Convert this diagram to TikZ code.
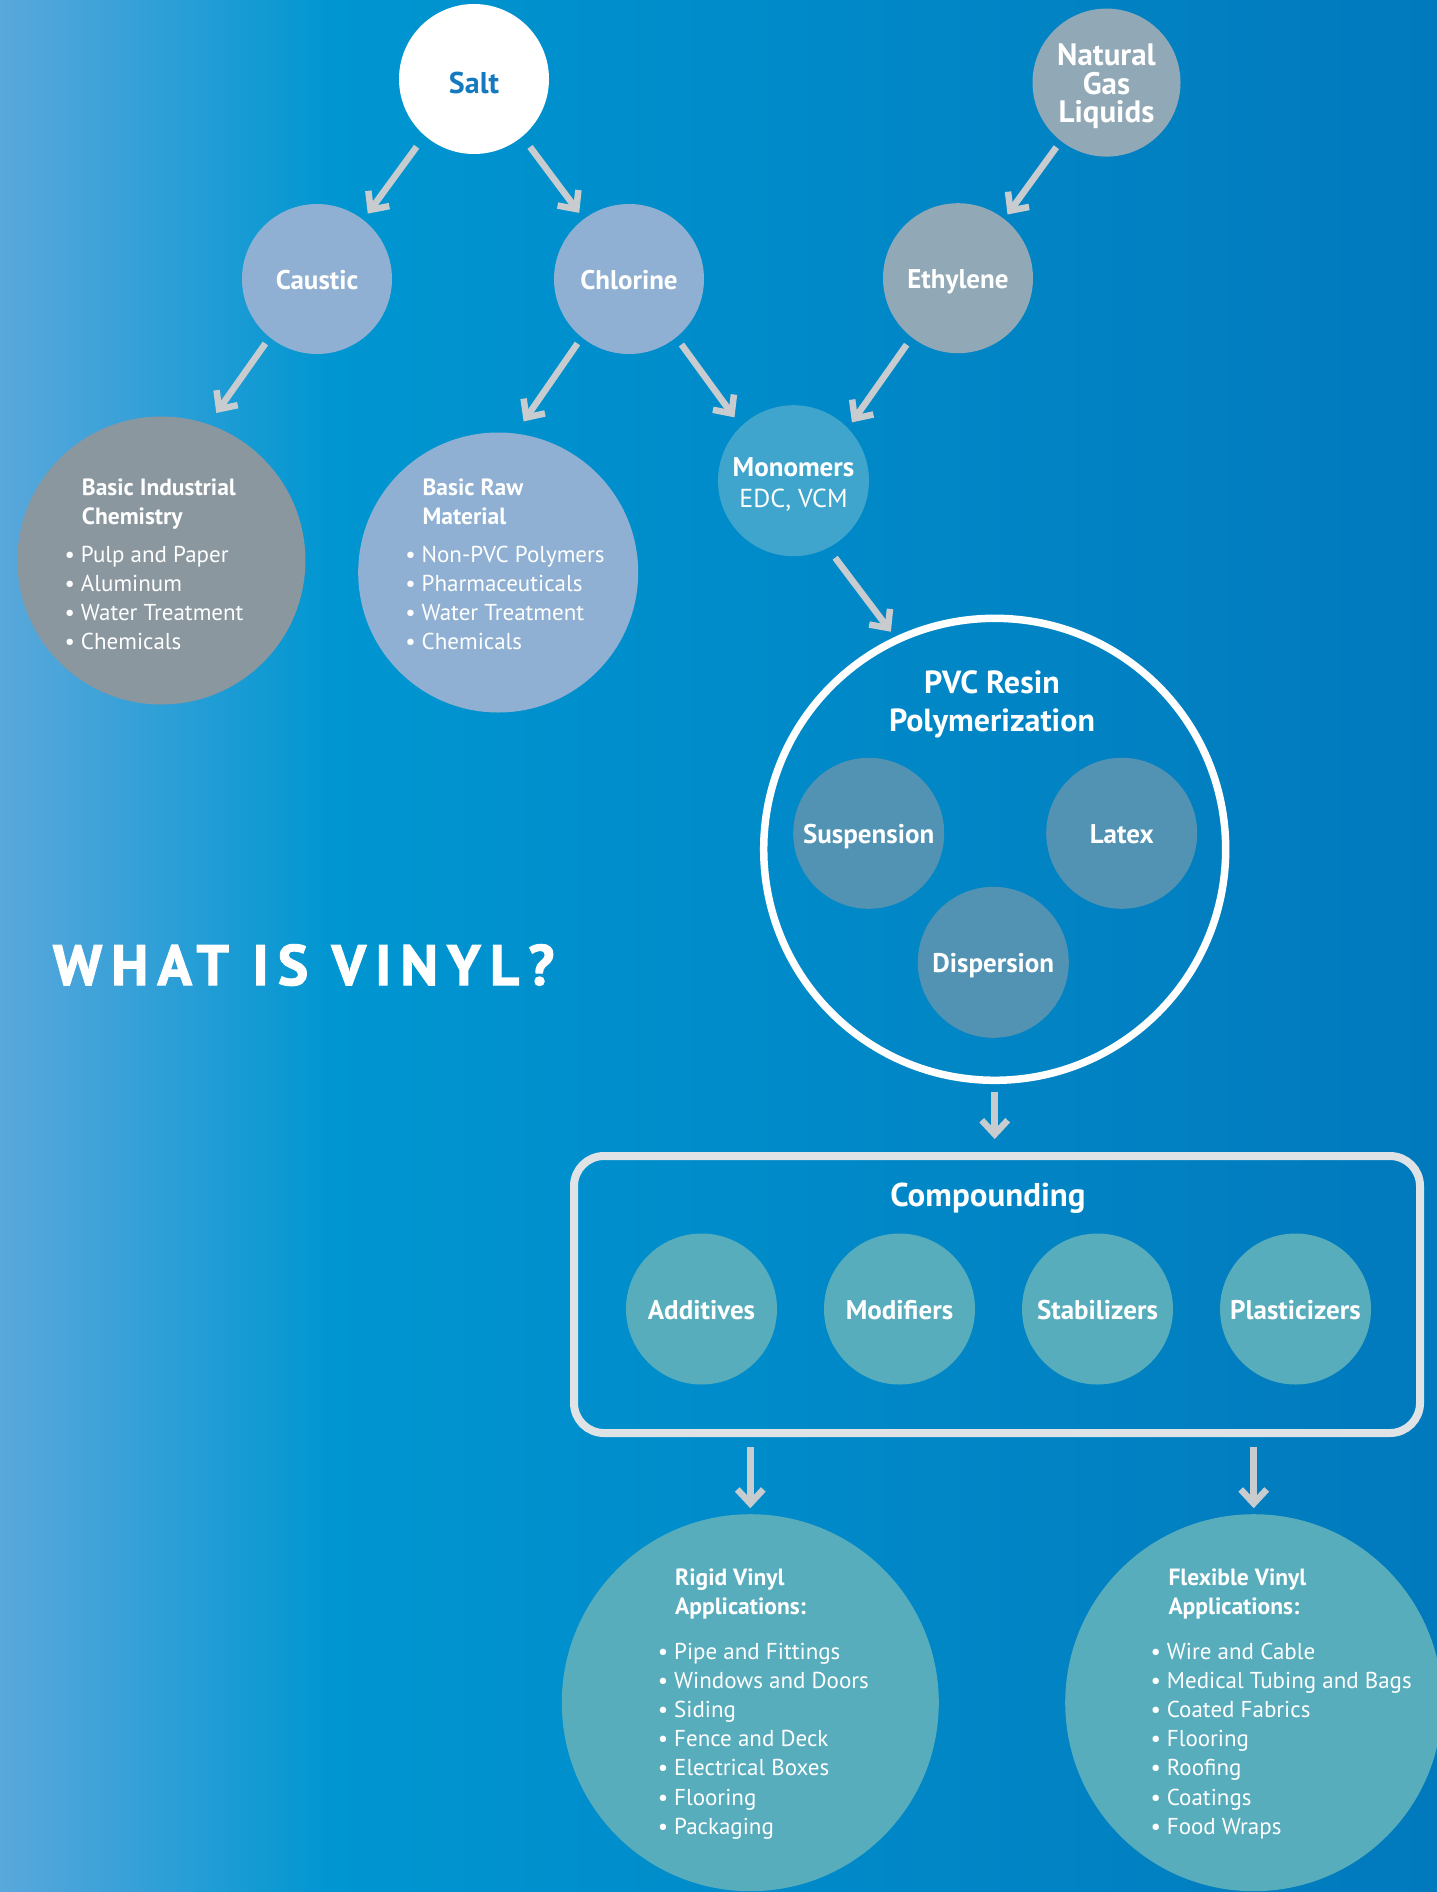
\documentclass[tikz,border=0pt]{standalone}
\usepackage{fontspec}
\setmainfont{PT Sans}
\usepackage{tikz}
\usetikzlibrary{arrows.meta}

\definecolor{bgl}{HTML}{5AA8DC}
\definecolor{bgm}{HTML}{0096D1}
\definecolor{bgr}{HTML}{0179BD}
\definecolor{salttext}{HTML}{1479BE}
\definecolor{steel}{HTML}{8FB0D2}
\definecolor{slate}{HTML}{8A979F}
\definecolor{gasgray}{HTML}{91A8B6}
\definecolor{mono}{HTML}{3FA5CC}
\definecolor{resin}{HTML}{5292B2}
\definecolor{appteal}{HTML}{58ADBD}
\definecolor{arrowgray}{HTML}{C8CCCF}
\definecolor{boxgray}{HTML}{DFE3E6}

\newcommand{\blt}{\llap{\textbullet\hspace{6pt}}}

\begin{document}
\begin{tikzpicture}[x=1pt, y=-1pt,
    bubble/.style={circle, inner sep=0pt, outer sep=0pt, minimum size=150pt,
      align=center, text=white, text height=21pt, text depth=0pt,
      font=\bfseries\fontsize{27}{30}\selectfont},
    arr/.style={draw=arrowgray, line width=6.5pt,
      -{Straight Barb[length=14pt, width=26pt, sharp]}},
    head/.style={anchor=base west, inner sep=0pt, align=left, text=white,
      font=\bfseries\fontsize{23.5}{28.5}\selectfont},
    items/.style={anchor=base west, inner sep=0pt, align=left, text=white,
      font=\fontsize{23}{29.2}\selectfont}]

    % background
    \useasboundingbox (0,0) rectangle (1437,1892);
    \shade [left color=bgl, right color=bgm] (0,0) rectangle (331,1892);
    \shade [left color=bgm, right color=bgr] (330,0) rectangle (1437,1892);

    % raw materials
    \node [bubble, fill=white, text=salttext, text height=30pt,
      font=\bfseries\fontsize{30}{30}\selectfont] (salt) at (474, 79) {Salt};
    \node [bubble, fill=steel] (caustic)  at (317, 279) {Caustic};
    \node [bubble, fill=steel] (chlorine) at (629, 279) {Chlorine};
    \node [bubble, fill=gasgray, minimum size=148pt, text height=80.8pt,
      font=\bfseries\fontsize{31}{28.7}\selectfont] (ngl) at (1106.5, 82.6)
      {Natural\\Gas\\Liquids};
    \node [bubble, fill=gasgray] (ethylene) at (958, 278.2) {Ethylene};
    \node [bubble, fill=mono, minimum size=151pt, text height=53.2pt,
      font=\bfseries\fontsize{27}{31.3}\selectfont] (monomers) at (793.5, 480.7)
      {Monomers\\{\mdseries\fontsize{26}{31.3}\selectfont EDC, VCM}};

    % uses of caustic and chlorine (last baselines)
    \node [bubble, fill=slate, minimum size=288pt] (bic) at (161.4, 560.5) {};
    \node [head] (bichead) at (81.7, 524) {Basic Industrial\\Chemistry};
    \node [items] (bicitems) at (80.8, 649.7) {\blt Pulp and Paper\\
      \blt Aluminum\\ \blt Water Treatment\\ \blt Chemicals};

    \node [bubble, fill=steel, minimum size=280pt] (brm) at (498.2, 572.5) {};
    \node [head] (brmhead) at (422.4, 524) {Basic Raw\\Material};
    \node [items] (brmitems) at (421.5, 649.7) {\blt Non-PVC Polymers\\
      \blt Pharmaceuticals\\ \blt Water Treatment\\ \blt Chemicals};

    % polymerization
    \node [bubble, draw=white, line width=7.5pt, minimum size=462pt] (pvc)
      at (994.7, 849.3) {};
    \node [anchor=base, align=center, text=white,
      font=\bfseries\fontsize{32}{37.7}\selectfont] (pvctitle) at (992, 731)
      {PVC Resin\\Polymerization};
    \node [bubble, fill=resin, minimum size=151pt] (suspension)
      at (868.7, 833.3) {Suspension};
    \node [bubble, fill=resin, minimum size=151pt] (latex)
      at (1121.7, 833.3) {Latex};
    \node [bubble, fill=resin, minimum size=151pt] (dispersion)
      at (993.3, 962.3) {Dispersion};

    % compounding
    \node [draw=boxgray, line width=8pt, rounded corners=30pt, inner sep=0pt,
      outer sep=0pt, minimum width=846pt, minimum height=277pt] (comp)
      at (997, 1294.5) {};
    \node [anchor=base, text=white, font=\bfseries\fontsize{33}{33}\selectfont]
      (comptitle) at (988, 1206) {Compounding};
    \foreach \name/\txt [count=\i from 0] in {add/Additives, mod/Modifiers,
        stab/Stabilizers, plast/Plasticizers} {
      \node [bubble, fill=appteal, minimum size=151pt] (\name)
        at (701.5+198*\i, 1309) {\txt};
    }

    % applications
    \node [bubble, fill=appteal, minimum size=377pt] (rigid) at (750.3, 1702.7) {};
    \node [head] (rigidhead) at (675, 1614) {Rigid Vinyl\\Applications:};
    \node [items] (rigiditems) at (674, 1834.3) {\blt Pipe and Fittings\\
      \blt Windows and Doors\\ \blt Siding\\ \blt Fence and Deck\\
      \blt Electrical Boxes\\ \blt Flooring\\ \blt Packaging};

    \node [bubble, fill=appteal, minimum size=377pt] (flexible)
      at (1253.7, 1702.7) {};
    \node [head] (flexhead) at (1168.3, 1614) {Flexible Vinyl\\Applications:};
    \node [items] (flexitems) at (1166.7, 1834.3) {\blt Wire and Cable\\
      \blt Medical Tubing and Bags\\ \blt Coated Fabrics\\ \blt Flooring\\
      \blt Roofing\\ \blt Coatings\\ \blt Food Wraps};

    % title
    \node [anchor=base west, inner sep=0pt, text=white,
      font=\bfseries\fontsize{57}{57}\selectfont\addfontfeature{LetterSpace=16,FakeBold=2}]
      (title) at (52.8, 985) {WHAT IS VINYL?};

    % flow
    \foreach \a/\b/\s/\e in {salt.229.5/caustic.52.9/13.8/7.8,
        salt.310/chlorine.127.3/13.1/7.8,
        caustic.231.7/bic.71.2/7.6/13.9,
        chlorine.231.6/brm.83.2/7.6/14.7,
        chlorine.309.7/monomers.134.7/8.9/11.2,
        ngl.232.9/ethylene.52.6/7.8/5.7,
        ethylene.232.7/monomers.44.8/9/7.2,
        monomers.297.4/pvc.115.9/12.2/10.3} {
      \draw [arr, shorten <=\s pt, shorten >=\e pt] (\a) -- (\b);
    }
    \draw [arr, shorten <=11.4pt, shorten >=17pt] (pvc.south) -- (pvc.south |- comp.north);
    \draw [arr, shorten <=13.7pt, shorten >=6pt] (rigid.north |- comp.south) -- (rigid.north);
    \draw [arr, shorten <=13.7pt, shorten >=6pt] (flexible.north |- comp.south) -- (flexible.north);
\end{tikzpicture}
\end{document}
